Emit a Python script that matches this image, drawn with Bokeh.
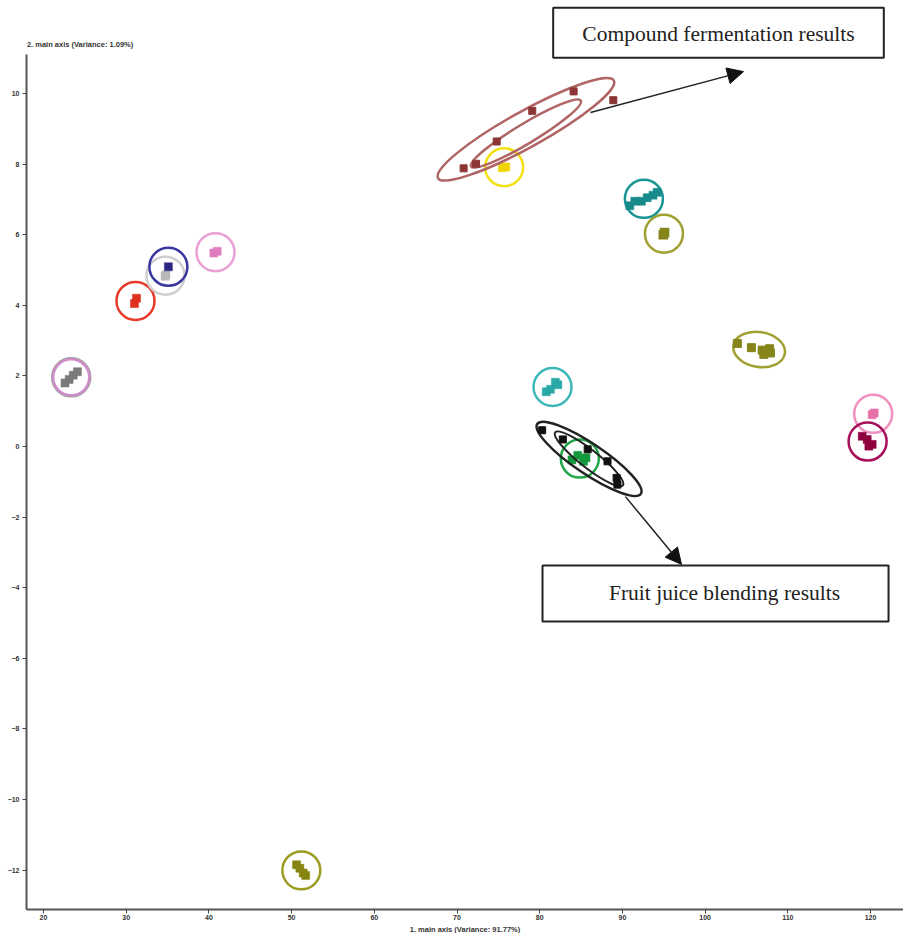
import math
from bokeh.plotting import figure
from bokeh.models import FixedTicker, Label, Arrow, NormalHead, BoxAnnotation, Title
from bokeh.embed import file_html
from bokeh.resources import INLINE

# ---------------- data ----------------
x_ticks = [20, 30, 40, 50, 60, 70, 80, 90, 100, 110, 120]
y_ticks = [-12, -10, -8, -6, -4, -2, 0, 2, 4, 6, 8, 10]
x_title = "1. main axis (Variance: 91.77%)"
y_title = "2. main axis (Variance: 1.09%)"

gray_x = [22.6, 23.1, 23.6, 24.1]
gray_y = [1.80, 1.90, 2.02, 2.12]
lightgray_x = [34.7, 34.8]
lightgray_y = [4.82, 4.86]
blue_x = [35.1]
blue_y = [5.09]
red_x = [31.0, 31.25]
red_y = [4.05, 4.20]
pinkL_x = [40.6, 41.0]
pinkL_y = [5.48, 5.53]
comp_x = [70.8, 72.3, 74.8, 79.1, 84.1, 88.9]
comp_y = [7.88, 8.01, 8.64, 9.51, 10.06, 9.81]
yellow_x = [75.5, 75.9]
yellow_y = [7.90, 7.92]
teal_x = [90.9, 91.5, 92.3, 93.0, 93.7, 94.2]
teal_y = [6.82, 6.95, 6.95, 7.05, 7.12, 7.20]
oliveA_x = [94.95, 95.1]
oliveA_y = [6.00, 6.06]
oliveB_x = [103.9, 105.6, 106.9, 107.8, 107.1, 107.9]
oliveB_y = [2.92, 2.80, 2.73, 2.77, 2.61, 2.65]
cyan_x = [80.8, 81.3, 81.9, 82.2]
cyan_y = [1.55, 1.62, 1.82, 1.75]
blend_x = [80.3, 82.8, 85.8, 88.2, 89.3, 89.4]
blend_y = [0.46, 0.20, -0.08, -0.42, -0.89, -1.08]
green_x = [83.9, 84.6, 85.3, 85.6]
green_y = [-0.38, -0.25, -0.42, -0.32]
pinkR_x = [120.2, 120.45]
pinkR_y = [0.90, 0.95]
crimson_x = [119.0, 119.6, 120.2, 119.8]
crimson_y = [0.29, 0.20, 0.06, 0.01]
oliveC_x = [50.6, 51.0, 51.4, 51.7]
oliveC_y = [-11.85, -11.95, -12.08, -12.15]

compound_label = "Compound fermentation results"
blend_label = "Fruit juice blending results"

# ---------------- figure ----------------
W, H = 903, 933
L, B = 26, 24
px_x = 8.27   # px per x unit
px_y = 35.3   # px per y unit
x0 = 20 - (43 - L) / px_x
x1 = x0 + (W - L) / px_x
y1 = 10 + 93 / px_y
y0 = y1 - (H - B) / px_y

p = figure(width=W, height=H, x_range=(x0, x1), y_range=(y0, y1),
           output_backend="svg", toolbar_location=None,
           min_border_left=L, min_border_right=0, min_border_top=0,
           min_border_bottom=B)
p.outline_line_color = None
p.xgrid.visible = False
p.ygrid.visible = False
p.background_fill_color = "white"

for ax, ticks in ((p.xaxis, x_ticks), (p.yaxis, y_ticks)):
    ax.ticker = FixedTicker(ticks=ticks)
    ax.axis_line_color = "#555555"
    ax.axis_line_width = 2
    ax.major_tick_line_color = "#444444"
    ax.major_tick_line_width = 1
    ax.major_tick_out = 4
    ax.major_tick_in = 0
    ax.minor_tick_line_color = None
    ax.major_label_text_font = "Liberation Sans"
    ax.major_label_text_font_size = "7px"
    ax.major_label_text_font_style = "bold"
    ax.major_label_text_color = "#333333"
p.xaxis.major_label_standoff = 1
p.yaxis.major_label_standoff = 3
p.yaxis.bounds = (y0, 11.1)

p.add_layout(Title(text=x_title, align="center", offset=17, standoff=0,
                   text_font="Liberation Sans", text_font_size="7.5px",
                   text_font_style="bold", text_color="#333333"), "below")
p.add_layout(Label(x=x0 + 0.05, y=11.39, text=y_title, text_font="Liberation Sans",
                   text_font_size="7.5px", text_font_style="bold",
                   text_color="#333333", text_baseline="middle"))

def mean(v):
    return sum(v) / len(v)

# (xs, ys, marker colour, ring colours, marker size)
ring_groups = [
    (gray_x, gray_y, "#7a7a7a", ["#a0a0a0", "#d08ccb"], 8),
    (red_x, red_y, "#e0301e", ["#e83a2a"], 8),
    (lightgray_x, lightgray_y, "#b8b8b8", ["#cfcfcf"], 8),
    (blue_x, blue_y, "#2a2880", ["#3a38a0"], 8),
    (pinkL_x, pinkL_y, "#e07ec0", ["#eaa0d5"], 8),
    (yellow_x, yellow_y, "#f0d400", ["#f2e010"], 8),
    (teal_x, teal_y, "#178a8a", ["#1a9595"], 8),
    (oliveA_x, oliveA_y, "#85851a", ["#a0a030"], 9),
    (cyan_x, cyan_y, "#2aa8a8", ["#3cb8b8"], 8),
    (green_x, green_y, "#15993e", ["#22a84a"], 8),
    (pinkR_x, pinkR_y, "#e870a8", ["#f090c0"], 8),
    (crimson_x, crimson_y, "#900040", ["#a8105a"], 8),
    (oliveC_x, oliveC_y, "#858510", ["#9c9c22"], 8),
]

for xs, ys, mc, rings, ms in ring_groups:
    cx, cy = mean(xs), mean(ys)
    for k, rc in enumerate(rings):
        p.scatter(x=[cx], y=[cy], marker="circle", size=38 - 2 * k,
                  fill_color=None, line_color=rc, line_width=2.5)
    p.scatter(x=xs, y=ys, marker="square", size=ms, fill_color=mc,
              line_color=mc, line_width=0.5)

# olive group with ellipse
ocx, ocy = mean(oliveB_x), mean(oliveB_y)
p.ellipse(x=[ocx], y=[ocy], width=52, height=35, angle=math.radians(-9),
          width_units="screen", height_units="screen",
          fill_color=None, line_color="#a0a030", line_width=2.5)
p.scatter(x=oliveB_x, y=oliveB_y, marker="square", size=8,
          fill_color="#85851a", line_color="#85851a")

# compound fermentation group
ccx, ccy = mean(comp_x), mean(comp_y)
p.ellipse(x=[ccx], y=[ccy], width=201, height=36, angle=math.radians(29),
          width_units="screen", height_units="screen",
          fill_color=None, line_color="#b06464", line_width=2.5)
p.ellipse(x=[ccx], y=[ccy - 0.12], width=128, height=20, angle=math.radians(31),
          width_units="screen", height_units="screen",
          fill_color=None, line_color="#b06464", line_width=2.5)
p.scatter(x=comp_x, y=comp_y, marker="square", size=7,
          fill_color="#8b3535", line_color="#8b3535")

# fruit juice blending group
bcx, bcy = mean(blend_x), mean(blend_y)
p.ellipse(x=[bcx], y=[bcy - 0.05], width=125, height=30, angle=math.radians(-34),
          width_units="screen", height_units="screen",
          fill_color=None, line_color="#222222", line_width=2.5)
p.ellipse(x=[bcx], y=[bcy - 0.05], width=86, height=18, angle=math.radians(-38),
          width_units="screen", height_units="screen",
          fill_color=None, line_color="#222222", line_width=2)
p.scatter(x=blend_x, y=blend_y, marker="square", size=7,
          fill_color="#111111", line_color="#111111")

# annotations
p.add_layout(BoxAnnotation(left=81.63, right=121.61, top=12.43, bottom=11.01,
                           fill_color="white", fill_alpha=1,
                           line_color="#222222", line_alpha=1, line_width=2))
p.add_layout(Label(x=101.62, y=11.69, text=compound_label,
                   text_font="Liberation Serif", text_font_size="21.5px",
                   text_color="#222222", text_align="center",
                   text_baseline="middle"))
p.add_layout(BoxAnnotation(left=80.34, right=122.18, top=-3.37, bottom=-4.96,
                           fill_color="white", fill_alpha=1,
                           line_color="#222222", line_alpha=1, line_width=2))
p.add_layout(Label(x=102.35, y=-4.16, text=blend_label,
                   text_font="Liberation Serif", text_font_size="21.5px",
                   text_color="#222222", text_align="center",
                   text_baseline="middle"))

p.add_layout(Arrow(end=NormalHead(size=16, fill_color="#111111",
                                  line_color="#111111"),
                   x_start=86.14, y_start=9.46, x_end=104.64, y_end=10.62,
                   line_color="#222222", line_width=1.5))
p.add_layout(Arrow(end=NormalHead(size=16, fill_color="#111111",
                                  line_color="#111111"),
                   x_start=90.37, y_start=-1.42, x_end=97.15, y_end=-3.34,
                   line_color="#222222", line_width=1.5))

open("out.html", "w").write(file_html(p, INLINE))
